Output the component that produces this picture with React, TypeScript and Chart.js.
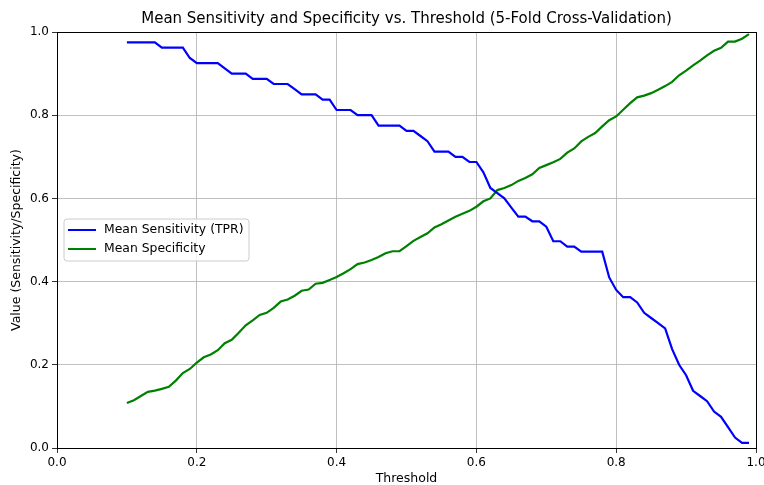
import React, { useEffect, useRef } from "react";
import { Chart, registerables } from "chart.js";

Chart.register(...registerables);

const thresholds: number[] = [
  0.10, 0.11, 0.12, 0.13, 0.14, 0.15, 0.16, 0.17, 0.18, 0.19,
  0.20, 0.21, 0.22, 0.23, 0.24, 0.25, 0.26, 0.27, 0.28, 0.29,
  0.30, 0.31, 0.32, 0.33, 0.34, 0.35, 0.36, 0.37, 0.38, 0.39,
  0.40, 0.41, 0.42, 0.43, 0.44, 0.45, 0.46, 0.47, 0.48, 0.49,
  0.50, 0.51, 0.52, 0.53, 0.54, 0.55, 0.56, 0.57, 0.58, 0.59,
  0.60, 0.61, 0.62, 0.63, 0.64, 0.65, 0.66, 0.67, 0.68, 0.69,
  0.70, 0.71, 0.72, 0.73, 0.74, 0.75, 0.76, 0.77, 0.78, 0.79,
  0.80, 0.81, 0.82, 0.83, 0.84, 0.85, 0.86, 0.87, 0.88, 0.89,
  0.90, 0.91, 0.92, 0.93, 0.94, 0.95, 0.96, 0.97, 0.98, 0.99,
];

const sensitivity: number[] = [
  0.975, 0.975, 0.975, 0.975, 0.975, 0.9625, 0.9625, 0.9625, 0.9625, 0.9375,
  0.925, 0.925, 0.925, 0.925, 0.9125, 0.9, 0.9, 0.9, 0.8875, 0.8875,
  0.8875, 0.875, 0.875, 0.875, 0.8625, 0.85, 0.85, 0.85, 0.8375, 0.8375,
  0.8125, 0.8125, 0.8125, 0.8, 0.8, 0.8, 0.775, 0.775, 0.775, 0.775,
  0.7625, 0.7625, 0.75, 0.7375, 0.7125, 0.7125, 0.7125, 0.7, 0.7, 0.6875,
  0.6875, 0.6625, 0.625, 0.6125, 0.6, 0.578, 0.556, 0.556, 0.545, 0.545,
  0.532, 0.497, 0.497, 0.484, 0.484, 0.472, 0.472, 0.472, 0.472, 0.41,
  0.38, 0.3625, 0.3625, 0.35, 0.325, 0.3125, 0.3, 0.2875, 0.2375, 0.2,
  0.175, 0.1375, 0.125, 0.1125, 0.0875, 0.075, 0.05, 0.025, 0.0125, 0.0125,
];

const specificity: number[] = [
  0.108, 0.115, 0.125, 0.135, 0.138, 0.142, 0.147, 0.162, 0.18, 0.19,
  0.205, 0.218, 0.225, 0.235, 0.252, 0.26, 0.277, 0.295, 0.307, 0.32,
  0.325, 0.337, 0.352, 0.357, 0.366, 0.378, 0.381, 0.395, 0.397, 0.404,
  0.411, 0.42, 0.43, 0.442, 0.446, 0.452, 0.459, 0.468, 0.473, 0.473,
  0.485, 0.498, 0.507, 0.516, 0.53, 0.538, 0.547, 0.556, 0.563, 0.57,
  0.58, 0.593, 0.6, 0.62, 0.625, 0.632, 0.642, 0.649, 0.658, 0.673,
  0.68, 0.687, 0.695, 0.71, 0.72, 0.737, 0.748, 0.757, 0.773, 0.788,
  0.797, 0.813, 0.829, 0.843, 0.847, 0.853, 0.861, 0.87, 0.88, 0.896,
  0.907, 0.92, 0.931, 0.944, 0.955, 0.962, 0.977, 0.977, 0.984, 0.995,
];

const seriesLabels: string[] = ["Mean Sensitivity (TPR)", "Mean Specificity"];
const seriesColors: string[] = ["#0000ff", "#008000"];
const titleText = "Mean Sensitivity and Specificity vs. Threshold (5-Fold Cross-Validation)";
const xTitle = "Threshold";
const yTitle = "Value (Sensitivity/Specificity)";

const FONT = "'DejaVu Sans', sans-serif";

const decorPlugin = {
  id: "decor",
  afterDraw(chart: any) {
    const { ctx, chartArea } = chart;
    const { left, right, top, bottom } = chartArea;
    ctx.save();
    // spines
    ctx.strokeStyle = "#000000";
    ctx.lineWidth = 1;
    ctx.strokeRect(Math.round(left) + 0.5, Math.round(top) + 0.5, Math.round(right - left), Math.round(bottom - top));
    // title
    ctx.fillStyle = "#000000";
    ctx.textAlign = "center";
    ctx.textBaseline = "middle";
    ctx.font = `15px ${FONT}`;
    ctx.fillText(titleText, (left + right) / 2, 19);
    // axis titles
    ctx.font = `12.5px ${FONT}`;
    ctx.fillText(xTitle, (left + right) / 2, 479);
    ctx.save();
    ctx.translate(17, (top + bottom) / 2);
    ctx.rotate(-Math.PI / 2);
    ctx.fillText(yTitle, 0, 0);
    ctx.restore();
    // legend
    const bx = 64, by = 219, bw = 185, bh = 42, r = 3;
    ctx.beginPath();
    ctx.moveTo(bx + r, by);
    ctx.lineTo(bx + bw - r, by);
    ctx.quadraticCurveTo(bx + bw, by, bx + bw, by + r);
    ctx.lineTo(bx + bw, by + bh - r);
    ctx.quadraticCurveTo(bx + bw, by + bh, bx + bw - r, by + bh);
    ctx.lineTo(bx + r, by + bh);
    ctx.quadraticCurveTo(bx, by + bh, bx, by + bh - r);
    ctx.lineTo(bx, by + r);
    ctx.quadraticCurveTo(bx, by, bx + r, by);
    ctx.closePath();
    ctx.fillStyle = "rgba(255,255,255,0.8)";
    ctx.fill();
    ctx.strokeStyle = "#cccccc";
    ctx.lineWidth = 1;
    ctx.stroke();
    ctx.font = `12.4px ${FONT}`;
    ctx.textAlign = "left";
    chart.data.datasets.forEach((ds: any, i: number) => {
      const y = 230 + i * 19;
      ctx.strokeStyle = ds.borderColor;
      ctx.lineWidth = 2;
      ctx.beginPath();
      ctx.moveTo(68, y);
      ctx.lineTo(96, y);
      ctx.stroke();
      ctx.fillStyle = "#000000";
      ctx.fillText(ds.label, 104, y);
    });
    ctx.restore();
  },
};

export default function App() {
  const ref = useRef<HTMLCanvasElement | null>(null);
  useEffect(() => {
    document.body.style.margin = "0";
    if (!ref.current) return;
    const tickFont = { family: FONT, size: 12 };
    const chart = new Chart(ref.current, {
      type: "line",
      data: {
        datasets: [
          {
            label: seriesLabels[0],
            data: thresholds.map((t, i) => ({ x: t, y: sensitivity[i] })),
            borderColor: seriesColors[0],
            backgroundColor: seriesColors[0],
            borderWidth: 2.2,
            pointRadius: 0,
            tension: 0,
            fill: false,
          },
          {
            label: seriesLabels[1],
            data: thresholds.map((t, i) => ({ x: t, y: specificity[i] })),
            borderColor: seriesColors[1],
            backgroundColor: seriesColors[1],
            borderWidth: 2.2,
            pointRadius: 0,
            tension: 0,
            fill: false,
          },
        ],
      },
      options: {
        animation: false,
        responsive: false,
        devicePixelRatio: 1,
        layout: { padding: { top: 32, right: 0, left: 0, bottom: 0 } },
        plugins: {
          legend: { display: false },
          title: { display: false },
          tooltip: { enabled: false },
        },
        scales: {
          x: {
            type: "linear",
            min: 0,
            max: 1,
            afterFit: (s: any) => {
              s.height = 37;
              s.paddingRight = 8;
              s.paddingLeft = 0;
            },
            ticks: {
              stepSize: 0.2,
              color: "#000000",
              font: tickFont,
              padding: 3,
              maxRotation: 0,
              callback: (v: any) => Number(v).toFixed(1),
            },
            grid: {
              color: "#b0b0b0",
              lineWidth: 0.8,
              tickColor: "#000000",
              tickLength: 5,
            },
            border: { display: true, color: "#000000" },
          },
          y: {
            type: "linear",
            min: 0,
            max: 1,
            afterFit: (s: any) => {
              s.width = 57;
              s.paddingTop = 0;
              s.paddingBottom = 0;
            },
            ticks: {
              stepSize: 0.2,
              color: "#000000",
              font: tickFont,
              padding: 3,
              callback: (v: any) => Number(v).toFixed(1),
            },
            grid: {
              color: "#b0b0b0",
              lineWidth: 0.8,
              tickColor: "#000000",
              tickLength: 5,
            },
            border: { display: true, color: "#000000" },
          },
        },
      },
      plugins: [decorPlugin],
    });
    return () => chart.destroy();
  }, []);
  return (
    <div style={{ position: "fixed", left: 0, top: 0, width: 764, height: 485, background: "#fff" }}>
      <canvas ref={ref} width={764} height={485} style={{ display: "block" }} />
    </div>
  );
}
